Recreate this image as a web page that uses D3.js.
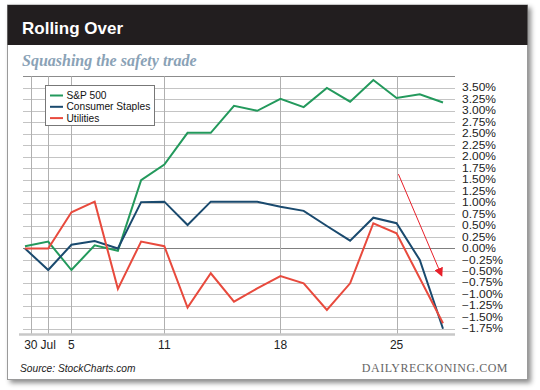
<!DOCTYPE html>
<html><head><meta charset="utf-8">
<script src="https://cdn.jsdelivr.net/npm/d3@7"></script>
<style>body{margin:0;background:#fff}svg{display:block}</style>
</head><body><svg id="c" width="540" height="390"></svg>
<script>
// ---- data ----
const dates = ["Jun 30","Jul 1","Jul 5","Jul 6","Jul 7","Jul 8","Jul 11","Jul 12","Jul 13","Jul 14","Jul 15","Jul 18","Jul 19","Jul 20","Jul 21","Jul 22","Jul 25","Jul 26","Jul 27"];
const sp500 = [0.05,0.15,-0.47,0.07,-0.05,1.49,1.83,2.52,2.52,3.11,3.00,3.26,3.08,3.50,3.20,3.67,3.28,3.36,3.18];
const staples = [0.00,-0.47,0.08,0.16,0.00,1.01,1.02,0.51,1.02,1.02,1.02,0.91,0.82,0.49,0.17,0.67,0.55,-0.25,-1.75];
const utilities = [0.00,0.00,0.79,1.02,-0.88,0.15,0.05,-1.29,-0.54,-1.16,-0.87,-0.60,-0.76,-1.34,-0.76,0.55,0.33,-0.65,-1.63];
const seriesNames = ["S&P 500","Consumer Staples","Utilities"];
const seriesColors = ["#23995c","#1a4a6e","#e84a3d"];
const yTicks = [3.5,3.25,3,2.75,2.5,2.25,2,1.75,1.5,1.25,1,0.75,0.5,0.25,0,-0.25,-0.5,-0.75,-1,-1.25,-1.5,-1.75];
const xTickIndex = [0.25,1,2,6,11,16];
const xTickLabels = ["30","Jul","5","11","18","25"];
const arrowStart = [16.08, 1.62];
const arrowEnd = [17.95, -0.60];
const title = "Rolling Over";
const subtitle = "Squashing the safety trade";
const source = "Source: StockCharts.com";
const brand = "DAILYRECKONING.COM";

// ---- layout ----
const svg = d3.select("#c");
const defs = svg.append("defs");
const f = defs.append("filter").attr("id","sh").attr("x","-5%").attr("y","-5%").attr("width","115%").attr("height","115%");
f.append("feDropShadow").attr("dx",3).attr("dy",3).attr("stdDeviation",2.5).attr("flood-color","#000").attr("flood-opacity",0.45);

// card
svg.append("rect").attr("x",7.5).attr("y",5).attr("width",520).attr("height",374.5)
  .attr("fill","#fff").attr("stroke","#9a9a9a").attr("stroke-width",1).attr("filter","url(#sh)");
svg.append("rect").attr("x",7.5).attr("y",5).attr("width",520).attr("height",40).attr("fill","#221e1f");
svg.append("text").attr("x",22).attr("y",34).attr("fill","#fff")
  .attr("font-family","Liberation Sans, Arial, sans-serif").attr("font-weight","bold").attr("font-size",17).text(title);
svg.append("text").attr("x",22).attr("y",65.5).attr("fill","#8aa2b6")
  .attr("font-family","Liberation Serif, Times New Roman, serif").attr("font-weight","bold").attr("font-style","italic")
  .attr("font-size",16).text(subtitle);

// scales
const x = d3.scaleLinear().domain([0, dates.length-1]).range([25, 443]);
const y = d3.scaleLinear().domain([-1.875, 3.75]).range([334.5, 76.4]);
const left = 23, right = 455;

const g = svg.append("g");
// horizontal gridlines
g.selectAll(".hg").data(yTicks).enter().append("line")
  .attr("x1",left).attr("x2",right)
  .attr("y1",d=>Math.round(y(d))+0.5).attr("y2",d=>Math.round(y(d))+0.5)
  .attr("stroke",d=>d===0?"#808080":"#c4c4c4").attr("stroke-width",1);
// top frame line
g.append("line").attr("x1",left).attr("x2",right).attr("y1",Math.round(y(3.75))+0.5).attr("y2",Math.round(y(3.75))+0.5)
  .attr("stroke","#8c8c8c");
// vertical gridlines
g.selectAll(".vg").data(xTickIndex).enter().append("line")
  .attr("x1",d=>Math.round(x(d))+0.5).attr("x2",d=>Math.round(x(d))+0.5)
  .attr("y1",y(3.75)).attr("y2",y(-1.875))
  .attr("stroke","#b0b0b0");
// bottom axis
g.append("line").attr("x1",19).attr("x2",right).attr("y1",y(-1.875)).attr("y2",y(-1.875))
  .attr("stroke","#c8c8c8").attr("stroke-width",2.5);

// y labels (condensed height, Helvetica-like width)
g.selectAll(".yl").data(yTicks).enter().append("text")
  .attr("transform",d=>`translate(462,${y(d)}) scale(1.2,1)`).attr("dy","0.36em")
  .attr("font-family","Liberation Sans, Arial, sans-serif").attr("font-size",10).attr("fill","#222")
  .text(d=>d3.format(".2f")(d)+"%");
// x labels
g.selectAll(".xl").data(xTickIndex).enter().append("text")
  .attr("x",d=>x(d)).attr("y",345).attr("dy","0.36em").attr("text-anchor","middle")
  .attr("font-family","Liberation Sans, Arial, sans-serif").attr("font-size",12).attr("fill","#222")
  .text((d,i)=>xTickLabels[i]);

// lines
const allSeries = [sp500, staples, utilities];
const line = d3.line().x((d,i)=>x(i)).y(d=>y(d));
[0,1,2].forEach(k=>{
  g.append("path").datum(allSeries[k]).attr("d",line).attr("fill","none")
    .attr("stroke",seriesColors[k]).attr("stroke-width",2).attr("stroke-linejoin","miter");
});

// arrow
defs.append("marker").attr("id","ah").attr("viewBox","0 0 10 10").attr("refX",9).attr("refY",5)
  .attr("markerWidth",9).attr("markerHeight",9).attr("markerUnits","userSpaceOnUse").attr("orient","auto")
  .append("path").attr("d","M0,0 L10,5 L0,10 Z").attr("fill","#e8202a");
g.append("line").attr("x1",x(arrowStart[0])).attr("y1",y(arrowStart[1]))
  .attr("x2",x(arrowEnd[0])).attr("y2",y(arrowEnd[1]))
  .attr("stroke","#e8202a").attr("stroke-width",1).attr("marker-end","url(#ah)");

// legend
const lg = svg.append("g");
lg.append("rect").attr("x",45.5).attr("y",85.5).attr("width",109).attr("height",40)
  .attr("fill","#fff").attr("stroke","#777");
seriesNames.forEach((n,i)=>{
  const yy = 95.5 + i*11.3;
  lg.append("line").attr("x1",50).attr("x2",63).attr("y1",yy).attr("y2",yy).attr("stroke",seriesColors[i]).attr("stroke-width",2);
  lg.append("text").attr("x",66.5).attr("y",yy).attr("dy","0.36em")
    .attr("font-family","Liberation Sans, Arial, sans-serif").attr("font-size",10.2).attr("fill","#111").text(n);
});

// footer
svg.append("text").attr("x",20).attr("y",368).attr("dy","0.36em")
  .attr("font-family","Liberation Sans, Arial, sans-serif").attr("font-style","italic").attr("font-size",10.2).attr("fill","#222").text(source);
svg.append("text").attr("x",508).attr("y",368).attr("dy","0.36em").attr("text-anchor","end")
  .attr("font-family","Liberation Serif, Times New Roman, serif").attr("font-size",12).attr("letter-spacing",0.5).attr("fill","#666").text(brand);
</script></body></html>
